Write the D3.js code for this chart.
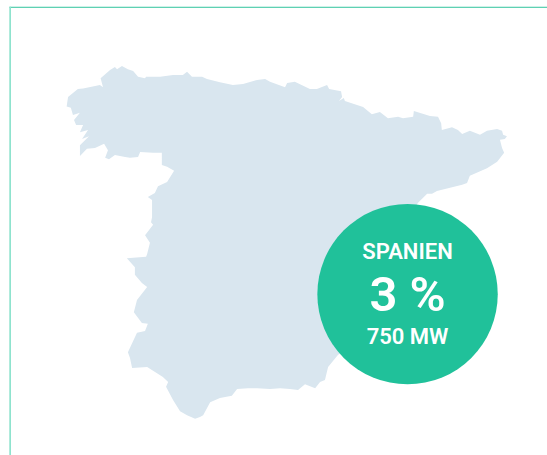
<!DOCTYPE html>
<html>
<head>
<meta charset="utf-8">
<script src="https://d3js.org/d3.v7.min.js"></script>
<style>
html, body { margin: 0; padding: 0; background: #fff; overflow: hidden; }
svg { display: block; }
text { font-family: Roboto, sans-serif; fill: #fff; text-anchor: middle; }
</style>
</head>
<body>
<svg id="chart" width="547" height="455"></svg>
<script>
// outline of Spain (clockwise from Cabo Finisterre)
var coastLon = [-9.31,-9.27,-8.99,-8.84,-8.36,-8.27,-8.34,-8.07,-7.93,-7.87,-7.73,-7.56,-7.41,-7.27,-7.07,-7.04,-6.64,-6.27,-5.99,-5.87,-5.73,-5.44,-5.30,-4.93,-4.56,-4.27,-3.87,-3.64,-3.50,-3.07,-3.01,-2.79,-2.36,-2.16,-1.87,-1.81,-1.47,-1.44,-1.53,-1.39,-1.36,-0.84,-0.59,-0.36,-0.13,0.16,0.30,0.59,0.61,1.07,1.30,1.39,1.41,1.70,1.87,1.99,2.21,2.50,2.70,2.99,3.13,3.16,3.27,3.21,3.07,3.13,3.19,2.99,2.70,2.21,2.13,1.99,1.27,1.13,0.99,0.73,0.21,-0.21,0.36,-0.64,-1.36,-1.56,-1.84,-1.93,-2.07,-2.21,-2.50,-2.70,-2.93,-3.21,-3.50,-3.87,-4.13,-4.44,-4.59,-4.93,-5.21,-5.41,-5.50,-5.64,-5.87,-6.07,-6.27,-6.47,-6.41,-6.56,-7.01,-7.44,-7.50,-7.56,-7.44,-7.30,-7.07,-6.99,-7.16,-7.39,-7.30,-7.01,-7.16,-7.36,-7.36,-7.59,-7.04,-7.01,-6.93,-7.07,-6.84,-6.90,-6.87,-6.87,-6.99,-6.79,-6.70,-6.44,-6.24,-6.44,-6.59,-6.59,-6.84,-7.21,-7.27,-7.50,-7.64,-7.93,-8.10,-8.21,-8.13,-8.24,-8.50,-8.73,-8.93,-8.93,-8.67,-8.87,-8.70,-8.93,-8.84,-9.04,-9.10,-8.93,-9.13,-9.19];
var coastLat = [42.90,43.11,43.29,43.30,43.38,43.33,43.53,43.71,43.78,43.73,43.80,43.73,43.69,43.56,43.53,43.56,43.56,43.60,43.60,43.67,43.56,43.56,43.51,43.44,43.38,43.40,43.49,43.51,43.45,43.33,43.42,43.45,43.29,43.29,43.38,43.29,43.24,43.11,43.02,43.09,43.02,42.89,42.73,42.78,42.64,42.67,42.64,42.67,42.80,42.69,42.67,42.53,42.38,42.44,42.38,42.29,42.36,42.27,42.36,42.40,42.36,42.27,42.24,42.18,42.16,41.98,41.87,41.67,41.53,41.36,41.20,41.16,41.02,40.96,40.96,40.76,40.16,39.38,38.60,37.93,37.49,37.38,37.11,36.82,36.78,36.64,36.73,36.60,36.62,36.64,36.62,36.64,36.64,36.62,36.47,36.42,36.33,36.04,36.00,35.96,36.04,36.13,36.38,36.67,36.78,36.89,37.11,37.09,37.31,37.44,37.64,37.87,37.91,38.07,38.09,38.33,38.60,38.89,38.98,39.16,39.33,39.53,39.56,39.62,39.87,40.04,40.27,40.33,40.44,40.82,40.89,40.98,41.13,41.22,41.47,41.56,41.60,41.87,41.87,41.89,41.78,41.76,41.78,41.82,41.73,41.76,41.93,42.07,41.98,41.96,41.80,42.04,42.24,42.18,42.38,42.33,42.49,42.49,42.60,42.76,42.71,42.87];

var badgeLon = [0.43];
var badgeLat = [38.73];
var badgeLines = ["SPANIEN", "3 %", "750 MW"];

var svg = d3.select("#chart");

var x = d3.scaleLinear().domain([-10, 4]).range([42.5, 532.5]);
var y = d3.scaleLinear().domain([45, 35]).range([12, 462]);

// frame, only top and left are visible
svg.append("rect").attr("x", 9.5).attr("y", 6.7).attr("width", 560).attr("height", 1.3).attr("fill", "#5fd1b3");
svg.append("rect").attr("x", 9.3).attr("y", 6.7).attr("width", 1.7).attr("height", 460).attr("fill", "#8fe3ce");

var line = d3.line()
	.x(function (d) { return x(d[0]); })
	.y(function (d) { return y(d[1]); })
	.curve(d3.curveLinearClosed);

svg.append("path")
	.datum(d3.zip(coastLon, coastLat))
	.attr("d", line)
	.attr("fill", "#d9e6ef");

var cx = x(badgeLon[0]), cy = y(badgeLat[0]);

svg.append("circle")
	.attr("cx", cx)
	.attr("cy", cy)
	.attr("r", 90.2)
	.attr("fill", "#20c19a");

svg.append("text").attr("x", cx).attr("y", cy - 35).attr("font-size", 22).attr("font-weight", 600).text(badgeLines[0]);
svg.append("text").attr("x", cx).attr("y", cy + 17).attr("font-size", 49).attr("font-weight", 600).text(badgeLines[1]);
svg.append("text").attr("x", cx).attr("y", cy + 50).attr("font-size", 22).attr("font-weight", 600).text(badgeLines[2]);
</script>
</body>
</html>
